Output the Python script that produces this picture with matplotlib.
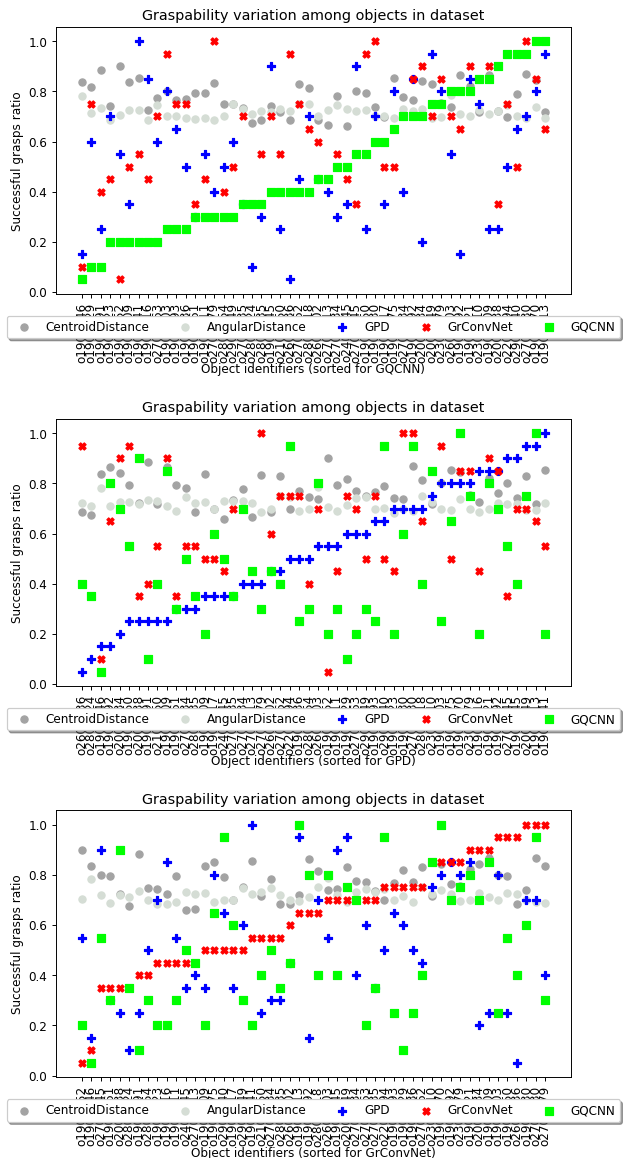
import matplotlib
matplotlib.use("Agg")
import matplotlib.pyplot as plt
import numpy as np

# wyniki dla 50 obiektow (kolejnosc jak na pierwszym wykresie - posortowane wg GQCNN)
labels = ["o1900046", "o1900029", "o1900091", "o1900023", "o1900052",
          "o1900009", "o1900041", "o1900016", "o2700063", "o1900003",
          "o1900093", "o1900036", "o1900061", "o1900011", "o2700079",
          "o2800054", "o2900049", "o2700035", "o2800024", "o2800035",
          "o1900045", "o2100050", "o2600036", "o2700062", "o2800018",
          "o2600002", "o2700013", "o2700034", "o2400045", "o2700045",
          "o1900050", "o1900030", "o1900017", "o1900075", "o2700034",
          "o1900092", "o2000034", "o2000049", "o2300079", "o2600003",
          "o1900092", "o1900021", "o2300010", "o1900009", "o2000038",
          "o2200094", "o2900040", "o2700030", "o1900070", "o1900013"]

centroid = [0.836, 0.818, 0.884, 0.742, 0.900, 0.836, 0.855, 0.725, 0.772, 0.800,
            0.767, 0.770, 0.795, 0.794, 0.835, 0.748, 0.751, 0.735, 0.675, 0.685,
            0.742, 0.717, 0.686, 0.830, 0.814, 0.685, 0.666, 0.783, 0.660, 0.800,
            0.795, 0.738, 0.698, 0.852, 0.777, 0.764, 0.843, 0.830, 0.755, 0.738,
            0.864, 0.823, 0.717, 0.866, 0.723, 0.698, 0.790, 0.869, 0.845, 0.718]

angular = [0.783, 0.714, 0.734, 0.684, 0.705, 0.726, 0.724, 0.686, 0.744, 0.700,
           0.700, 0.692, 0.689, 0.692, 0.687, 0.700, 0.748, 0.730, 0.711, 0.721,
           0.718, 0.731, 0.722, 0.750, 0.751, 0.700, 0.724, 0.746, 0.730, 0.720,
           0.726, 0.700, 0.700, 0.693, 0.731, 0.722, 0.728, 0.693, 0.697, 0.786,
           0.710, 0.700, 0.725, 0.711, 0.720, 0.745, 0.701, 0.692, 0.738, 0.695]

gpd = [0.15, 0.60, 0.25, 0.70, 0.55, 0.35, 1.00, 0.85, 0.60, 0.80,
       0.65, 0.50, 0.30, 0.55, 0.40, 0.50, 0.60, 0.35, 0.10, 0.30,
       0.90, 0.25, 0.05, 0.45, 0.70, 0.45, 0.40, 0.30, 0.35, 0.90,
       0.25, 0.70, 0.35, 0.80, 0.40, 0.85, 0.20, 0.95, 0.80, 0.55,
       0.15, 0.85, 0.75, 0.25, 0.25, 0.50, 0.65, 0.70, 0.80, 0.95]

grconvnet = [0.10, 0.75, 0.40, 0.45, 0.05, 0.50, 0.55, 0.45, 0.70, 0.95,
             0.75, 0.75, 0.35, 0.45, 1.00, 0.40, 0.50, 0.70, 0.35, 0.55,
             0.70, 0.55, 0.95, 0.75, 0.65, 0.60, 0.45, 0.55, 0.45, 0.35,
             0.95, 1.00, 0.50, 0.50, 0.70, 0.85, 0.90, 0.70, 0.85, 0.70,
             0.65, 0.90, 0.85, 0.90, 0.35, 0.75, 0.50, 1.00, 0.85, 0.65]

gqcnn = [0.05, 0.10, 0.10, 0.20, 0.20, 0.20, 0.20, 0.20, 0.20, 0.25,
         0.25, 0.25, 0.30, 0.30, 0.30, 0.30, 0.30, 0.35, 0.35, 0.35,
         0.40, 0.40, 0.40, 0.40, 0.40, 0.45, 0.45, 0.50, 0.50, 0.55,
         0.55, 0.60, 0.60, 0.65, 0.70, 0.70, 0.70, 0.75, 0.75, 0.80,
         0.80, 0.80, 0.85, 0.85, 0.90, 0.95, 0.95, 0.95, 1.00, 1.00]

# kolejnosc obiektow (numery z listy powyzej) na wykresie 2 i 3
order_gqcnn = list(range(1, 51))
order_gpd = [23, 19, 1, 41, 37, 31, 45, 3, 22, 44, 13, 28, 20, 6, 33, 29, 18, 35, 27, 15,
             26, 24, 46, 12, 16, 40, 5, 14, 2, 9, 17, 11, 47, 4, 32, 48, 25, 43, 10, 34,
             49, 39, 8, 42, 36, 30, 21, 38, 50, 7]
order_grconv = [5, 1, 30, 13, 45, 19, 3, 16, 4, 8, 14, 29, 27, 6, 34, 47, 33, 17, 7, 22,
                28, 20, 26, 50, 41, 25, 40, 21, 38, 35, 9, 18, 46, 11, 2, 12, 24, 43, 49, 36,
                39, 42, 37, 44, 10, 31, 23, 32, 48, 15]

serie = [("CentroidDistance", centroid, "o", "#a3a3a3"),
         ("AngularDistance", angular, "o", "#d5ddd5"),
         ("GPD", gpd, "P", "blue"),
         ("GrConvNet", grconvnet, "X", "red"),
         ("GQCNN", gqcnn, "s", "lime")]

wykresy = [(order_gqcnn, "GQCNN", 0.7461),
           (order_gpd, "GPD", 0.4076),
           (order_grconv, "GrConvNet", 0.0697)]

dpi = 86.4
fig = plt.figure(figsize=(623.4 / dpi, 1158.4 / dpi), dpi=dpi)

for kolejnosc, nazwa, dol in wykresy:
    ax = fig.add_axes([0.0894, dol, 0.8266, 0.2303])
    idx = np.array(kolejnosc) - 1
    x = np.arange(len(idx))
    for etykieta, wartosci, znacznik, kolor in serie:
        ax.scatter(x, np.array(wartosci)[idx], marker=znacznik, color=kolor,
                   s=36, label=etykieta)
    ax.set_xticks(x)
    ax.set_xticklabels([labels[i] for i in idx], rotation=90)
    ax.set_xlim(-2.75, 51.72)
    ax.set_ylim(-0.007, 1.057)
    ax.set_title("Graspability variation among objects in dataset")
    ax.set_ylabel("Successful grasps ratio")
    ax.set_xlabel("Object identifiers (sorted for " + nazwa + ")", labelpad=0)
    ax.legend(loc="upper center", bbox_to_anchor=(0.5, -0.06), ncol=5, shadow=True)

fig.savefig("out.png", dpi=dpi)
